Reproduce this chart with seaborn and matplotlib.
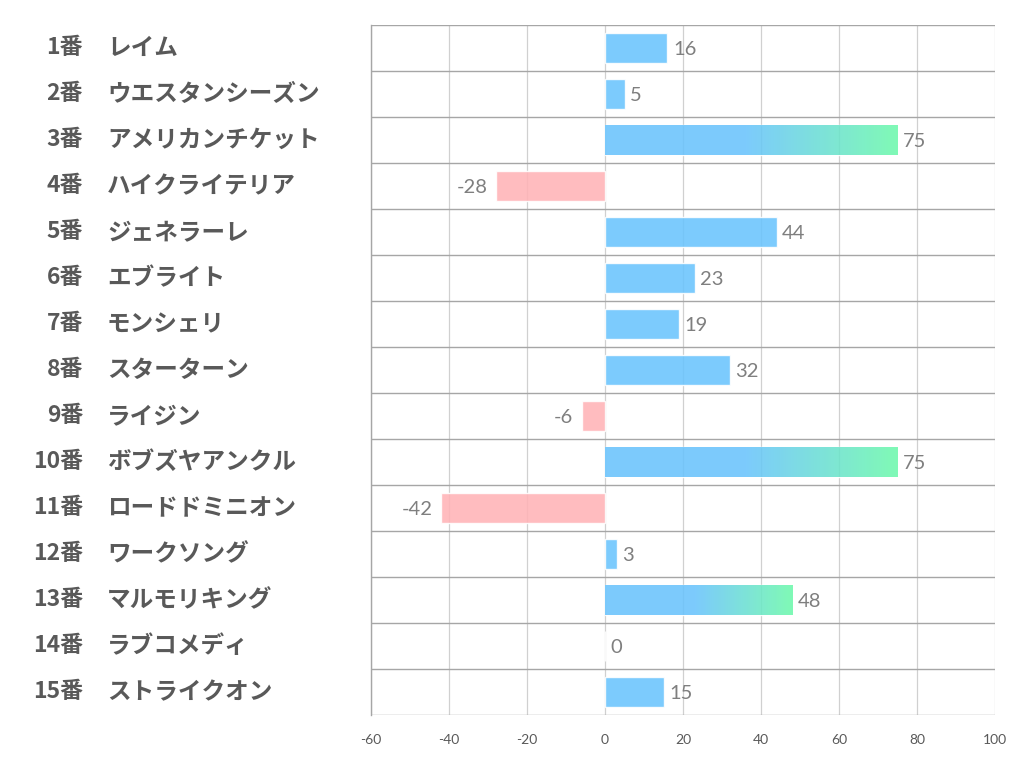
"""出走馬ごとの指数を横棒グラフで表示する。"""
import matplotlib
matplotlib.use("Agg")
import matplotlib.pyplot as plt
import matplotlib.transforms as mtransforms
import numpy as np
import seaborn as sns

numbers = ["1番", "2番", "3番", "4番", "5番", "6番", "7番", "8番",
           "9番", "10番", "11番", "12番", "13番", "14番", "15番"]
horses = ["レイム", "ウエスタンシーズン", "アメリカンチケット", "ハイクライテリア",
          "ジェネラーレ", "エブライト", "モンシェリ", "スターターン", "ライジン",
          "ボブズヤアンクル", "ロードドミニオン", "ワークソング", "マルモリキング",
          "ラブコメディ", "ストライクオン"]
scores = [16, 5, 75, -28, 44, 23, 19, 32, -6, 75, -42, 3, 48, 0, 15]
# グラデーション表示する馬
highlight = ["アメリカンチケット", "ボブズヤアンクル", "マルモリキング"]
x_ticks = [-60, -40, -20, 0, 20, 40, 60, 80, 100]

BLUE = "#7ccbfd"
GREEN = "#7ffab6"
PINK = "#ffbcbf"
ALPHA = 0.88


def pre_alpha(color, a=ALPHA):
    # 白背景の上で指定色に見えるよう、透過前の色を逆算
    c = np.array(matplotlib.colors.to_rgb(color))
    return tuple(np.clip((c - (1 - a)) / a, 0, 1))


sns.set_style("white")
plt.rcParams["font.family"] = ["Noto Sans CJK JP", "DejaVu Sans"]

fig = plt.figure(figsize=(10.22, 7.82), dpi=100)
ax = fig.add_axes([371 / 1022, 1 - 715 / 782, 624 / 1022, 690 / 782])

colors = [pre_alpha(PINK) if v < 0 else pre_alpha(BLUE) for v in scores]
sns.barplot(x=scores, y=horses, hue=horses, palette=colors, orient="h",
            width=0.66, legend=False, saturation=1, alpha=ALPHA, ax=ax)

# グラデーション (棒の後半を青→緑)
n = 256
t = np.clip((np.linspace(0, 1, n) - 0.48) / 0.52, 0, 1)
c0 = np.array(pre_alpha(BLUE))
c1 = np.array(pre_alpha(GREEN))
grad = (c0[None, :] * (1 - t[:, None]) + c1[None, :] * t[:, None])[None, :, :]
for bar in ax.patches:
    idx = int(round(bar.get_y() + bar.get_height() / 2))
    if horses[idx] in highlight:
        x0, y0 = bar.get_x(), bar.get_y()
        w, h = bar.get_width(), bar.get_height()
        bar.set_facecolor("none")
        im = ax.imshow(grad, extent=(x0, x0 + w, y0 + h, y0), aspect="auto",
                       alpha=ALPHA, zorder=bar.get_zorder() + 0.1)
        im.set_clip_path(bar)

ax.set_xlim(-60, 100)
ax.set_ylim(len(horses) - 0.5, -0.5)
ax.set_xticks(x_ticks)
ax.set_xticklabels([str(v) for v in x_ticks], color="#595959", fontsize=10,
                   family=["Lato", "DejaVu Sans"])
ax.tick_params(axis="x", length=0, pad=14)
ax.set_yticks([])
ax.set_xlabel("")
ax.set_ylabel("")

for x in x_ticks:
    ax.axvline(x, color="#d0d0d0", lw=0.9, zorder=0)
for i in range(len(horses) + 1):
    ax.axhline(i - 0.5, color="#a6a6a6", lw=1.0, zorder=0.5)
for side in ["top", "right", "bottom"]:
    ax.spines[side].set_visible(False)
ax.spines["left"].set_color("#a6a6a6")
ax.spines["left"].set_linewidth(1.0)

# 値ラベル
for i, v in enumerate(scores):
    if v < 0:
        ax.annotate(str(v), (v, i), xytext=(-6, -1), textcoords="offset points",
                    ha="right", va="center", fontsize=14.5, color="#7f7f7f",
                    family=["Lato", "DejaVu Sans"])
    else:
        ax.annotate(str(v), (v, i), xytext=(4, -1), textcoords="offset points",
                    ha="left", va="center", fontsize=14.5, color="#7f7f7f",
                    family=["Lato", "DejaVu Sans"])

# 馬番と馬名
trans = mtransforms.blended_transform_factory(fig.transFigure, ax.transData)
for i, (num, name) in enumerate(zip(numbers, horses)):
    ax.text(83 / 1022, i, num, transform=trans, ha="right", va="center",
            fontsize=16.5, fontweight="bold", color="#595959")
    ax.text(107 / 1022, i, name, transform=trans, ha="left", va="center",
            fontsize=17, fontweight="bold", color="#595959")

fig.savefig("out.png", dpi=100)
